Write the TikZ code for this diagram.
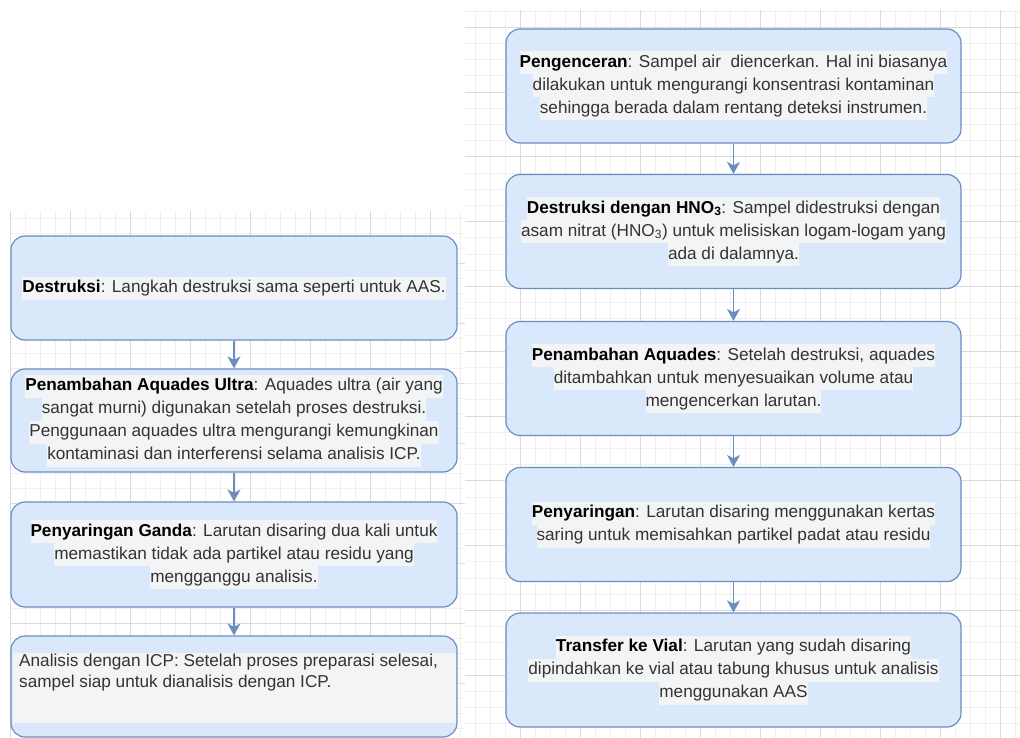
\documentclass[tikz,border=0pt]{standalone}
\usepackage{fontspec}
\setmainfont{Liberation Sans}
\usetikzlibrary{arrows.meta}

\definecolor{boxfill}{HTML}{DAE8FC}
\definecolor{boxline}{HTML}{6C8EBF}
\definecolor{hlgrey}{HTML}{F3F4F6}
\definecolor{txtgrey}{HTML}{333333}
\definecolor{gridmajor}{HTML}{DADADA}
\definecolor{gridminor}{HTML}{F0F0F0}
\newcommand{\hl}[1]{{\setlength{\fboxsep}{0pt}\colorbox{hlgrey}{\strut #1}}}
\newcommand{\bt}[1]{\textcolor{black}{\bfseries #1}}

\begin{document}
\begin{tikzpicture}
  [x=1pt,y=-1pt,
   stepbox/.style={draw=boxline,fill=boxfill,line width=1.2pt,rounded corners=14pt,
     align=center,inner sep=0pt,text=txtgrey,font=\fontsize{17.2}{23}\selectfont},
   leftbox/.style={stepbox,minimum width=446pt},
   rightbox/.style={stepbox,minimum width=455pt,minimum height=114pt},
   flow/.style={draw=boxline,line width=1.6pt,-{Stealth[length=12pt,width=13pt,inset=3.5pt]}}]
  \useasboundingbox (0,0) rectangle (1020,738);
  \fill [white] (0,0) rectangle (1020,738);

  \foreach \x in {10,25,...,465}
    \draw [gridminor] (\x,211) -- (\x,738);
  \foreach \y in {218,233,...,738}
    \draw [gridminor] (10,\y) -- (465,\y);
  \foreach \x in {10,70,...,465}
    \draw [gridmajor] (\x,211) -- (\x,738);
  \foreach \y in {263,323,...,738}
    \draw [gridmajor] (10,\y) -- (465,\y);
  \foreach \x in {475,490,...,1020}
    \draw [gridminor] (\x,10) -- (\x,738);
  \foreach \y in {10.8,27.0,...,738}
    \draw [gridminor] (465,\y) -- (1020,\y);
  \foreach \x in {520,580,...,1020}
    \draw [gridmajor] (\x,10) -- (\x,738);
  \foreach \y in {27,91.8,...,738}
    \draw [gridmajor] (465,\y) -- (1020,\y);

  \node [leftbox,minimum height=104pt] (l1) at (234,288)
    {\hl{\bt{Destruksi}: Langkah destruksi sama seperti untuk AAS.}};
  \node [leftbox,minimum height=103pt] (l2) at (234,420.5)
    {\hl{\bt{Penambahan Aquades Ultra}: Aquades ultra (air yang}\\
     \hl{sangat murni) digunakan setelah proses destruksi.}\\
     \hl{Penggunaan aquades ultra mengurangi kemungkinan}\\
     \hl{kontaminasi dan interferensi selama analisis ICP.}};
  \node [leftbox,minimum height=105pt] (l3) at (234,554.5)
    {\hl{\bt{Penyaringan Ganda}: Larutan disaring dua kali untuk}\\
     \hl{memastikan tidak ada partikel atau residu yang}\\
     \hl{mengganggu analisis.}};
  \node [leftbox,minimum height=101pt] (l4) at (234,686.5) {};
  \node [fill=hlgrey,minimum width=443pt,minimum height=70pt,inner sep=0pt] (l4band) at (234,688) {};
  \node [anchor=north west,align=left,inner sep=0pt,text=txtgrey,
    font=\fontsize{17.2}{21}\selectfont] (l4text) at (19,654)
    {Analisis dengan ICP: Setelah proses preparasi selesai,\\
     sampel siap untuk dianalisis dengan ICP.};

  \node [rightbox] (r1) at (733.5,86)
    {\hl{\bt{Pengenceran}: Sampel air~ diencerkan. Hal ini biasanya}\\
     \hl{dilakukan untuk mengurangi konsentrasi kontaminan}\\
     \hl{sehingga berada dalam rentang deteksi instrumen.}};
  \node [rightbox] (r2) at (733.5,231.5)
    {\hl{\bt{Destruksi dengan HNO\textsubscript{3}}: Sampel didestruksi dengan}\\
     \hl{asam nitrat (HNO\textsubscript{3}) untuk melisiskan logam-logam yang}\\
     \hl{ada di dalamnya.}};
  \node [rightbox] (r3) at (733.5,378.5)
    {\hl{\bt{Penambahan Aquades}: Setelah destruksi, aquades}\\
     \hl{ditambahkan untuk menyesuaikan volume atau}\\
     \hl{mengencerkan larutan.}};
  \node [rightbox] (r4) at (733.5,524.5)
    {\hl{\bt{Penyaringan}: Larutan disaring menggunakan kertas}\\
     \hl{saring untuk memisahkan partikel padat atau residu}};
  \node [rightbox] (r5) at (733.5,670)
    {\hl{\bt{Transfer ke Vial}: Larutan yang sudah disaring}\\
     \hl{dipindahkan ke vial atau tabung khusus untuk analisis}\\
     \hl{menggunakan AAS}};

  \foreach \from/\to in {l1/l2,l2/l3,l3/l4,r1/r2,r2/r3,r3/r4,r4/r5}
    \draw [flow] (\from) -- (\to);

\end{tikzpicture}
\end{document}
